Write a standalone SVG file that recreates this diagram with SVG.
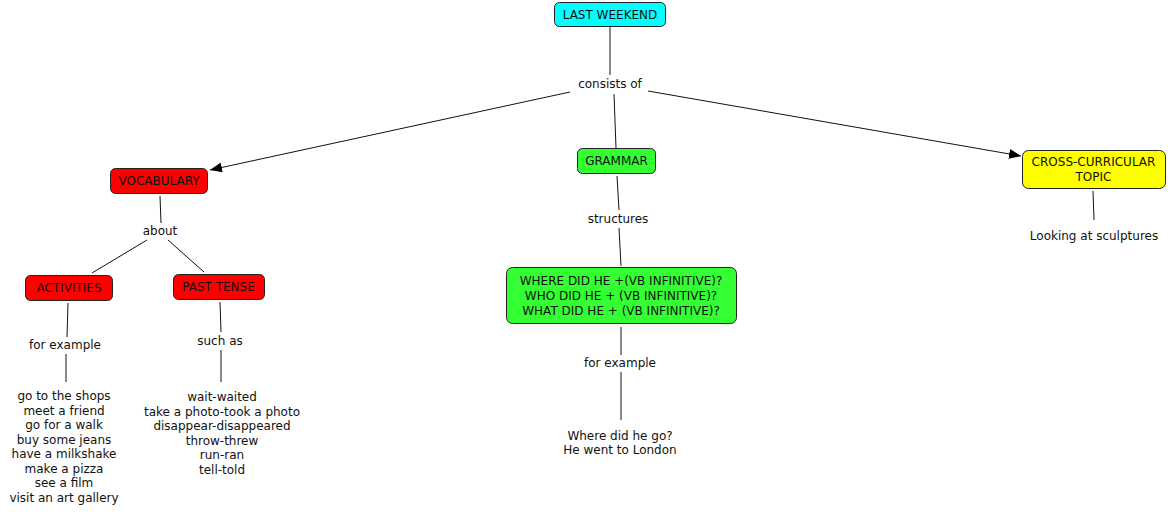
<svg xmlns="http://www.w3.org/2000/svg" width="1168" height="514" viewBox="0 0 1168 514">
<style>
text{font-family:"DejaVu Sans",Verdana,sans-serif;font-size:12px;fill:#111;text-anchor:middle;dominant-baseline:central}
.node rect{stroke:#222;stroke-width:1}
.cyan{fill:#00ffff}.red{fill:#ff0000}.green{fill:#33ff33}.yellow{fill:#ffff00}
#connectors line{stroke:#111;stroke-width:1}
</style>
<defs>
<marker id="arr" viewBox="0 0 12 10" refX="12" refY="5" markerWidth="12" markerHeight="10" markerUnits="userSpaceOnUse" orient="auto">
<path d="M0,0 L12,5 L0,10 z" fill="#000"/>
</marker>
</defs>
<rect width="1168" height="514" fill="#fff"/>
<g id="connectors">
<line x1="610" y1="27" x2="610" y2="75"/>
<line x1="570" y1="92" x2="210" y2="170" marker-end="url(#arr)"/>
<line x1="614" y1="94" x2="616" y2="148"/>
<line x1="648" y1="91" x2="1021" y2="156" marker-end="url(#arr)"/>
<line x1="160" y1="196" x2="161" y2="223"/>
<line x1="147" y1="240" x2="92" y2="273"/>
<line x1="168" y1="240" x2="204" y2="272"/>
<line x1="68" y1="303" x2="67" y2="337"/>
<line x1="66" y1="354" x2="66" y2="382"/>
<line x1="220" y1="302" x2="221" y2="332"/>
<line x1="221" y1="350" x2="221" y2="382"/>
<line x1="617" y1="176" x2="619" y2="210"/>
<line x1="619" y1="228" x2="621" y2="266"/>
<line x1="621" y1="327" x2="621" y2="355"/>
<line x1="621" y1="372" x2="621" y2="420"/>
<line x1="1093" y1="191" x2="1094" y2="220"/>
</g>
<g id="last-weekend" class="node"><rect class="cyan" x="554.5" y="2.5" width="111" height="24" rx="5"/><text x="610" y="14.5">LAST WEEKEND</text></g>
<g id="consists-of"><text x="610" y="84">consists of</text></g>
<g id="vocabulary" class="node"><rect class="red" x="110.5" y="168.5" width="97" height="25" rx="5"/><text x="159" y="181">VOCABULARY</text></g>
<g id="about"><text x="160" y="231">about</text></g>
<g id="activities" class="node"><rect class="red" x="25.5" y="275.5" width="87" height="25" rx="5"/><text x="69" y="288">ACTIVITIES</text></g>
<g id="past-tense" class="node"><rect class="red" x="173.5" y="274.5" width="91" height="25" rx="5"/><text x="218.5" y="287">PAST TENSE</text></g>
<g id="for-example-1"><text x="65" y="345">for example</text></g>
<g id="activities-list">
<text x="64" y="396">go to the shops</text>
<text x="64" y="410.5">meet a friend</text>
<text x="64" y="425">go for a walk</text>
<text x="64" y="439.5">buy some jeans</text>
<text x="64" y="454">have a milkshake</text>
<text x="64" y="468.5">make a pizza</text>
<text x="64" y="483">see a film</text>
<text x="64" y="497.5">visit an art gallery</text>
</g>
<g id="such-as"><text x="220" y="341">such as</text></g>
<g id="past-list">
<text x="222" y="397">wait-waited</text>
<text x="222" y="411.5">take a photo-took a photo</text>
<text x="222" y="426">disappear-disappeared</text>
<text x="222" y="440.5">throw-threw</text>
<text x="222" y="455">run-ran</text>
<text x="222" y="469.5">tell-told</text>
</g>
<g id="grammar" class="node"><rect class="green" x="577.5" y="148.5" width="78" height="25" rx="5"/><text x="616.5" y="161">GRAMMAR</text></g>
<g id="structures"><text x="618" y="219">structures</text></g>
<g id="questions" class="node"><rect class="green" x="506.5" y="267.5" width="230" height="56" rx="6"/>
<text x="621" y="281">WHERE DID HE +(VB INFINITIVE)?</text>
<text x="621" y="296">WHO DID HE + (VB INFINITIVE)?</text>
<text x="621" y="311">WHAT DID HE + (VB INFINITIVE)?</text></g>
<g id="for-example-2"><text x="620" y="363">for example</text></g>
<g id="example"><text x="620" y="436">Where did he go?</text><text x="620" y="450">He went to London</text></g>
<g id="cross-curricular" class="node"><rect class="yellow" x="1022.5" y="150.5" width="143" height="38" rx="6"/>
<text x="1093.5" y="162">CROSS-CURRICULAR</text><text x="1093.5" y="177">TOPIC</text></g>
<g id="sculptures"><text x="1094" y="236">Looking at sculptures</text></g>
</svg>
